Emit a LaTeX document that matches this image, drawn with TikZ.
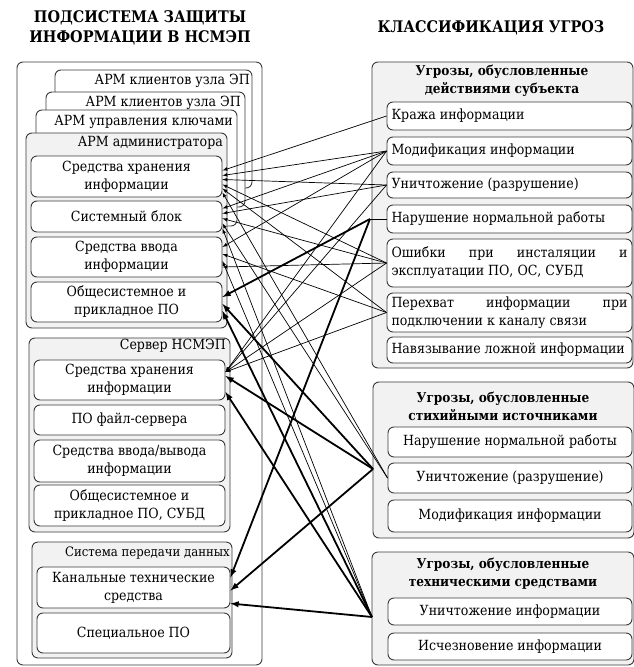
\documentclass[tikz,border=0pt]{standalone}
\usepackage{fontspec}
\setmainfont{DejaVu Serif Condensed}
\usetikzlibrary{arrows}

\definecolor{panelgray}{HTML}{F2F2F2}
\definecolor{edgegray}{HTML}{3A3A3A}
\tolerance=9999

\tikzset{
  panel/.style={draw=edgegray, line width=0.9pt, rounded corners=6pt},
  item/.style={draw=edgegray, line width=0.9pt, fill=white, rounded corners=6pt,
    align=center, inner sep=1pt, font=\fontsize{14}{18}\selectfont},
  litem/.style={item, minimum width=191pt},
  ritem/.style={item, minimum width=244pt},
  titem/.style={item, align=justify, inner xsep=4.5pt, text width=236pt},
  cardtext/.style={anchor=east, inner sep=0pt, font=\fontsize{14}{18}\selectfont},
  headtext/.style={align=center, inner sep=0pt, font=\fontsize{16}{20}\selectfont\bfseries},
  grouptext/.style={align=center, inner sep=0pt, font=\fontsize{13.5}{18}\selectfont\bfseries},
  lnk/.style={-latex, line width=0.7pt},
  blnk/.style={-latex, line width=1.8pt},
}

\begin{document}
\begin{tikzpicture}[x=1pt, y=-1pt]
\useasboundingbox (0,0) rectangle (634,667);

% headings
\node[headtext] (lhead) at (140,28) {ПОДСИСТЕМА ЗАЩИТЫ\\ИНФОРМАЦИИ В НСМЭП};
\node[headtext] (rhead) at (491,28) {КЛАССИФИКАЦИЯ УГРОЗ};

% left column
\draw[panel] (17,62) rectangle (262,665);
\draw[panel, fill=white] (55,70) rectangle (252,188);
\node[cardtext] (card1) at (250,81) {АРМ клиентов узла ЭП};
\draw[panel, fill=white] (46,92) rectangle (245,207);
\node[cardtext] (card2) at (241,103) {АРМ клиентов узла ЭП};
\draw[panel, fill=white] (36,110) rectangle (237,226);
\node[cardtext] (card3) at (233,122) {АРМ управления ключами};
\draw[panel, fill=panelgray] (26,133) rectangle (227,328);
\node[cardtext] (arm) at (223,143) {АРМ администратора};

\node[litem, minimum height=41pt] (A1) at (126.5,176.5) {Средства хранения\\информации};
\node[litem, minimum height=31pt] (A2) at (126.5,216.5) {Системный блок};
\node[litem, minimum height=40pt] (A3) at (126.5,257) {Средства ввода\\информации};
\node[litem, minimum height=40pt] (A4) at (126.5,302) {Общесистемное и\\прикладное ПО};

\draw[panel, fill=panelgray] (29,338) rectangle (230,532);
\node[cardtext] (srv) at (226,346) {Сервер НСМЭП};
\node[litem, minimum height=40pt] (S1) at (129.5,380) {Средства хранения\\информации};
\node[litem, minimum height=30pt] (S2) at (129.5,420) {ПО файл-сервера};
\node[litem, minimum height=42pt] (S3) at (129.5,461) {Средства ввода/вывода\\информации};
\node[litem, minimum height=41pt] (S4) at (129.5,505.5) {Общесистемное и\\прикладное ПО, СУБД};

\draw[panel, fill=panelgray] (32,542) rectangle (232,658);
\node[cardtext, font=\fontsize{13}{16}\selectfont] (net) at (230,553) {Система передачи данных};
\node[litem, minimum width=193pt, minimum height=41pt] (K1) at (133.5,587.5) {Канальные технические\\средства};
\node[litem, minimum width=193pt, minimum height=40pt] (K2) at (133.5,633) {Специальное ПО};

% right column
\draw[panel, fill=panelgray] (372,62) rectangle (633,368);
\node[grouptext] (grp1) at (502,81) {Угрозы, обусловленные\\действиями субъекта};
\node[titem, minimum height=28pt] (T1) at (509.5,116) {Кража информации};
\node[titem, minimum height=28pt] (T2) at (509.5,151) {Модификация информации};
\node[titem, minimum height=26pt] (T3) at (509.5,185) {Уничтожение (разрушение)};
\node[titem, minimum height=28pt] (T4) at (509.5,219) {Нарушение нормальной работы};
\node[titem, minimum height=48pt] (T5) at (509.5,263) {Ошибки при инсталяции и эксплуатации ПО, ОС, СУБД};
\node[titem, minimum height=39pt] (T6) at (509.5,312.5) {Перехват информации при подключении к каналу связи};
\node[titem, minimum height=26pt] (T7) at (509.5,350) {Навязывание ложной информации};

\draw[panel, fill=panelgray] (373,382) rectangle (634,538);
\node[grouptext] (grp2) at (503,406) {Угрозы, обусловленные\\стихийными источниками};
\node[ritem, minimum height=30pt] (U1) at (510,442) {Нарушение нормальной работы};
\node[ritem, minimum height=30pt] (U2) at (510,478) {Уничтожение (разрушение)};
\node[ritem, minimum height=32pt] (U3) at (510,516) {Модификация информации};

\draw[panel, fill=panelgray] (372,552) rectangle (634,665);
\node[grouptext] (grp3) at (503,573.5) {Угрозы, обусловленные\\техническими средствами};
\node[ritem, minimum height=27pt] (V1) at (510,611.5) {Уничтожение информации};
\node[ritem, minimum height=27pt] (V2) at (510,646.5) {Исчезновение информации};

% connection points
\coordinate (P4) at (370,219);
\coordinate (G2) at (373,469);
\coordinate (G3) at (372,617);

% thin links
\draw[lnk] (T1.west) -- ([yshift=6pt]A1.east);
\draw[lnk] (T2.west) -- ([yshift=1pt]A1.east);
\draw[lnk] (T2.west) -- ([yshift=8pt]A2.east);
\draw[lnk] (T2.west) -- ([yshift=10pt]A3.east);
\draw[lnk] (T2.west) -- ([yshift=8pt]S1.east);
\draw[lnk] (T3.west) -- ([yshift=-3pt]A1.east);
\draw[lnk] (T3.west) -- ([yshift=3pt]A2.east);
\draw[lnk] (T3.west) -- ([yshift=8pt]S1.east);
\draw[lnk] (T5.west) -- ([yshift=-8pt]A1.east);
\draw[lnk] (T5.west) -- ([yshift=-2pt]A2.east);
\draw[lnk] (T5.west) -- ([yshift=-10pt]A3.east);
\draw[lnk] (T5.west) -- ([yshift=8pt]S1.east);
\draw[lnk] (T6.west) -- ([yshift=-12pt]A1.east);
\draw[lnk] (T6.west) -- ([yshift=3pt]A3.east);
\draw[lnk] (T6.west) -- ([yshift=8pt]S1.east);
\draw[lnk] (U2.west) -- ([yshift=-16pt]A1.east);
\draw[lnk] (U2.west) -- ([yshift=-7pt]A2.east);
\draw[lnk] (G3) -- ([yshift=-12pt]A2.east);
\draw[lnk] (G3) -- ([yshift=-4pt]A3.east);
\draw[line width=0.7pt] (T4.west) -- (P4);

% thick links
\draw[blnk] (P4) -- ([yshift=5pt]A4.east);
\draw[blnk] (P4) -- ([yshift=10pt]K1.east);
\draw[blnk] (G2) -- ([yshift=-2pt]A4.east);
\draw[blnk] (G2) -- ([yshift=4pt]S1.east);
\draw[blnk] (G2) -- ([yshift=-3pt]K1.east);
\draw[blnk] (G3) -- ([yshift=-9pt]A4.east);
\draw[blnk] (G3) -- ([yshift=-12pt]S1.east);
\draw[blnk] (G3) -- ([yshift=-16pt]K1.east);
\end{tikzpicture}
\end{document}
